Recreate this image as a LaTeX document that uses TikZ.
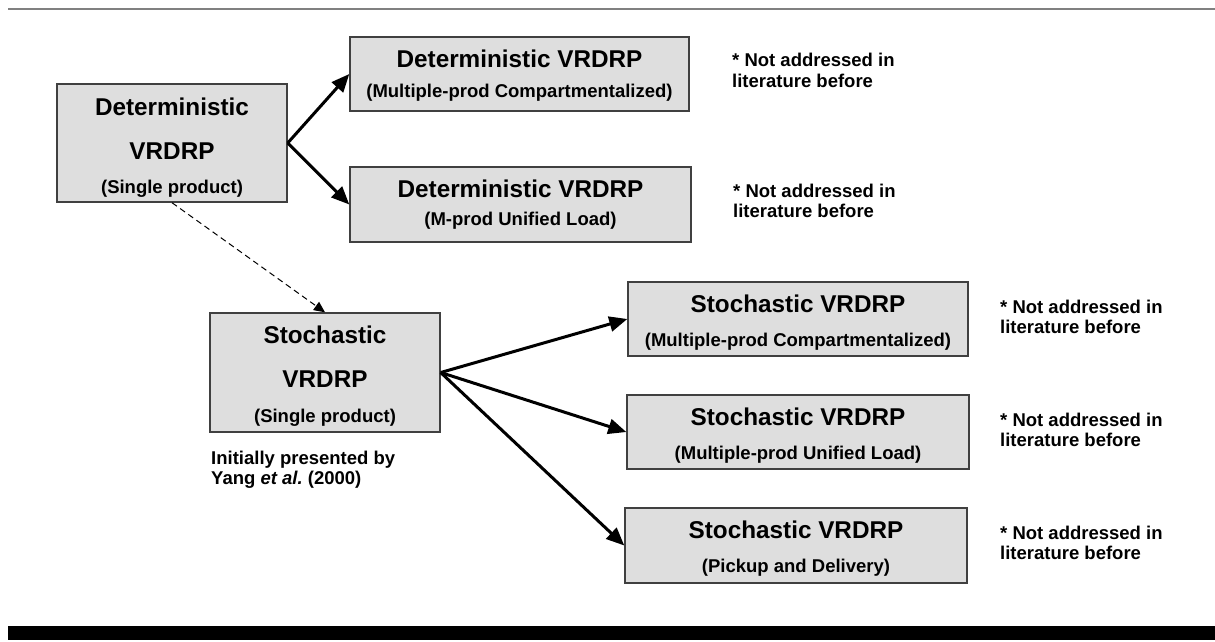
\documentclass[tikz,border=0pt]{standalone}
\usepackage{fontspec}
\setmainfont{Liberation Sans}
\usetikzlibrary{arrows.meta}
\frenchspacing
\begin{document}
\begin{tikzpicture}[x=1pt,y=-1pt,
  box/.style={draw=black!75, line width=1.4pt, fill=black!13, rectangle, inner sep=0pt},
  ttl/.style={anchor=base, inner sep=0pt, font=\bfseries\fontsize{24.3}{28}\selectfont},
  sub/.style={anchor=base, inner sep=0pt, font=\bfseries\fontsize{18.5}{21}\selectfont},
  note/.style={anchor=base west, inner sep=0pt, font=\bfseries\fontsize{18.5}{21}\selectfont},
  thick arrow/.style={line width=3pt, -{Triangle[length=18pt,width=15pt]}},
  dash arrow/.style={line width=1pt, dash pattern=on 6pt off 4pt, -{Triangle[length=11pt,width=10pt]}}
]
\useasboundingbox (0,0) rectangle (1215,641);
% frame lines
\draw[line width=2pt, black!50] (8,9) -- (1215,9);
\fill[black] (8,626) rectangle (1215,640);

% boxes
\node[box, minimum width=230pt, minimum height=118pt] (d1) at (172,143) {};
\node[box, minimum width=339pt, minimum height=74pt] (dc) at (519.5,74) {};
\node[box, minimum width=341pt, minimum height=75pt] (du) at (520.5,204.5) {};
\node[box, minimum width=230pt, minimum height=119pt] (s1) at (325,372.5) {};
\node[box, minimum width=340pt, minimum height=74pt] (sc) at (798,319) {};
\node[box, minimum width=342pt, minimum height=74pt] (su) at (798,432) {};
\node[box, minimum width=342pt, minimum height=75pt] (sp) at (796,545.5) {};

% box texts
\node[ttl] (d1a) at (172,115) {Deterministic};
\node[ttl] (d1b) at (172,159) {VRDRP};
\node[sub] (d1c) at (172,193) {(Single product)};

\node[ttl] (dca) at (519.5,67) {Deterministic VRDRP};
\node[sub] (dcb) at (519.5,97) {(Multiple-prod Compartmentalized)};

\node[ttl] (dua) at (520.5,197) {Deterministic VRDRP};
\node[sub] (dub) at (520.5,225) {(M-prod Unified Load)};

\node[ttl] (s1a) at (325,343) {Stochastic};
\node[ttl] (s1b) at (325,387) {VRDRP};
\node[sub] (s1c) at (325,422) {(Single product)};

\node[ttl] (sca) at (798,312) {Stochastic VRDRP};
\node[sub] (scb) at (798,346) {(Multiple-prod Compartmentalized)};

\node[ttl] (sua) at (798,425) {Stochastic VRDRP};
\node[sub] (sub) at (798,459) {(Multiple-prod Unified Load)};

\node[ttl] (spa) at (796,538) {Stochastic VRDRP};
\node[sub] (spb) at (796,572) {(Pickup and Delivery)};

% notes
\node[note] (n1a) at (732,66) {* Not addressed in};
\node[note] (n1b) at (732,87) {literature before};
\node[note] (n2a) at (733,197) {* Not addressed in};
\node[note] (n2b) at (733,217) {literature before};
\node[note] (n3a) at (1000,313) {* Not addressed in};
\node[note] (n3b) at (1000,333) {literature before};
\node[note] (n4a) at (1000,426) {* Not addressed in};
\node[note] (n4b) at (1000,446) {literature before};
\node[note] (n5a) at (1000,539) {* Not addressed in};
\node[note] (n5b) at (1000,559) {literature before};
\node[note] (ia) at (211,464) {Initially presented by};
\node[note] (ib) at (211,484) {Yang \textit{et al.}\ (2000)};

% connectors
\draw[thick arrow] (d1.east) -- (dc.west);
\draw[thick arrow] (d1.east) -- (du.west);
\draw[dash arrow] (d1.south) -- (s1.north);
\draw[thick arrow] (s1.east) -- (sc.west);
\draw[thick arrow] (s1.east) -- (su.west);
\draw[thick arrow] (s1.east) -- (sp.west);
\end{tikzpicture}
\end{document}
